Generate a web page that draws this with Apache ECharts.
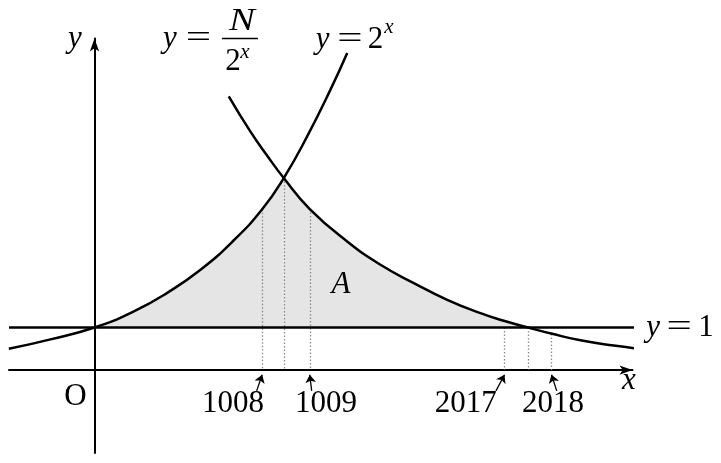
<!DOCTYPE html>
<html>
<head>
<meta charset="utf-8">
<script src="https://cdn.jsdelivr.net/npm/echarts@6/dist/echarts.min.js"></script>
<style>
html, body { margin: 0; padding: 0; background: #fff; }
#main { width: 721px; height: 463px; }
</style>
</head>
<body>
<div id="main"></div>
<script>
// y = 2^x (schematic units)
const expX = [-0.952, -0.489, 0, 0.437, 0.808, 1.178, 1.548, 1.863, 2.103, 2.363, 2.622, 2.808];
const expY = [0.499, 0.722, 1, 1.381, 1.816, 2.358, 3.052, 3.781, 4.515, 5.494, 6.593, 7.456];
// y = N / 2^x
const invX = [1.492, 1.733, 1.919, 2.103, 2.392, 2.808, 3.178, 3.548, 3.919, 4.289, 4.548, 4.819, 5.086, 5.4, 5.77, 6.067];
const invY = [6.435, 5.605, 5.04, 4.515, 3.786, 3.024, 2.475, 2.045, 1.652, 1.339, 1.158, 1, 0.852, 0.699, 0.576, 0.499];
// where the curves meet, and where N/2^x crosses y = 1
const meetX = 2.103, crossX = 4.819;
// dotted drop lines: x and the height they start from
const dropX = [1.863, 2.103, 2.392, 4.556, 4.819, 5.078];
const dropTop = [3.781, 4.515, 3.786, 1, 1, 0.85];
// marked x values and their labels
const tickText = ['1008', '1009', '2017', '2018'];
const tickX = [1.863, 2.392, 4.556, 5.078];
const tickLabelX = [1.539, 2.572, 4.124, 5.094];
const tickTailX = [1.802, 2.413, 4.461, 5.136];
const lineY = 1;

const FONT = "'Liberation Serif', 'DejaVu Serif', serif",
	FS = 31,
	BLACK = '#000',
	CURVE = { type: 'line', smooth: 0.5, symbol: 'none', clip: false, silent: true, z: 4,
		lineStyle: { color: BLACK, width: 2.5 } },
	FILL = { type: 'line', smooth: 0.5, symbol: 'none', clip: false, silent: true, z: 1,
		lineStyle: { width: 0 }, areaStyle: { color: '#e5e5e5', opacity: 1, origin: lineY } },
	AXIS_LINE = { onZero: true, symbol: ['none', 'arrow'], symbolSize: [7, 13],
		lineStyle: { color: BLACK, width: 2 } },
	NO_AXIS_DECOR = { axisTick: { show: false }, axisLabel: { show: false }, splitLine: { show: false } };

const pts = (xs, ys) => xs.map((x, i) => [x, ys[i]]);
const expPts = pts(expX, expY), invPts = pts(invX, invY);

const chart = echarts.init(document.getElementById('main'));

chart.setOption({
	animation: false,
	grid: { left: 9, right: 88.5, top: 38.5, bottom: 10 },
	xAxis: Object.assign({ type: 'value', min: -0.95, max: 5.978, axisLine: AXIS_LINE }, NO_AXIS_DECOR),
	yAxis: Object.assign({ type: 'value', min: -1.95, max: 7.796, axisLine: AXIS_LINE }, NO_AXIS_DECOR),
	series: [
		Object.assign({ data: expPts.filter(p => p[0] >= 0 && p[0] <= meetX) }, FILL),
		Object.assign({ data: invPts.filter(p => p[0] >= meetX && p[0] <= crossX) }, FILL),
		{
			type: 'lines', coordinateSystem: 'cartesian2d', silent: true, z: 2, clip: false,
			lineStyle: { color: '#8c8c8c', width: 1.3, type: [1.5, 2], opacity: 1 },
			data: dropX.map((x, i) => ({ coords: [[x, dropTop[i]], [x, 0]] }))
		},
		{
			type: 'line', symbol: 'none', silent: true, z: 3, clip: false,
			lineStyle: { color: BLACK, width: 2.5 },
			data: [[-0.95, lineY], [6.06, lineY]]
		},
		Object.assign({ data: expPts }, CURVE),
		Object.assign({ data: invPts }, CURVE),
		{
			type: 'lines', coordinateSystem: 'cartesian2d', silent: true, z: 5, clip: false,
			symbol: ['none', 'arrow'], symbolSize: 8,
			lineStyle: { color: BLACK, width: 1.3, opacity: 1 },
			data: tickX.map((x, i) => ({ coords: [[tickTailX[i], -0.49], [x, -0.11]] }))
		}
	]
});

// texts, anchored to data points, nudged in pixels
const px = p => chart.convertToPixel({ gridIndex: 0 }, p);
function txt(p, text, opts) {
	const o = Object.assign({ dx: 0, dy: 0, size: FS, italic: false, sx: 1 }, opts || {});
	return {
		type: 'text', x: p[0] + o.dx, y: p[1] + o.dy, scaleX: o.sx, z: 10, silent: true,
		style: {
			text, fill: BLACK, fontFamily: FONT, fontSize: o.size,
			fontStyle: o.italic ? 'italic' : 'normal',
			align: 'center', verticalAlign: 'middle'
		}
	};
}
const EQ = { sx: 1.45 };
const g = [];

// axis names and origin
g.push(txt(px([0, 7.796]), 'y', { italic: true, dx: -19.5, dy: 0 }));
g.push(txt(px([5.978, 0]), 'x', { italic: true, dx: -3.5, dy: 11 }));
g.push(txt(px([0, 0]), 'O', { dx: -19, dy: 26.5 }));
g.push(txt(px([2.739, 2.01]), 'A', { italic: true }));

// y = 2^x, at the top of its curve
const e = px(expPts[expPts.length - 1]);
g.push(txt(e, 'y', { italic: true, dx: -24.7, dy: -13.5 }));
g.push(txt(e, '=', Object.assign({ dx: 2.8, dy: -13.5 }, EQ)));
g.push(txt(e, '2', { dx: 28.3, dy: -13.5 }));
g.push(txt(e, 'x', { italic: true, size: 21, dx: 41.8, dy: -25 }));

// y = N / 2^x, above the start of its curve
const f = px(invPts[0]);
g.push(txt(f, 'y', { italic: true, dx: -58.8, dy: -57.9 }));
g.push(txt(f, '=', Object.assign({ dx: -30.3, dy: -57.9 }, EQ)));
g.push({ type: 'rect', z: 10, silent: true,
	shape: { x: f[0] + 11.2 - 18, y: f[1] - 57.9 - 0.8, width: 36, height: 1.6 }, style: { fill: BLACK } });
g.push(txt(f, 'N', { italic: true, sx: 1.25, dx: 13.2, dy: -74.5 }));
g.push(txt(f, '2', { dx: 4.2, dy: -34.9 }));
g.push(txt(f, 'x', { italic: true, size: 21, dx: 16.2, dy: -43.5 }));

// y = 1, at the right end of the line
const h = px([6.06, lineY]);
g.push(txt(h, 'y', { italic: true, dx: 13.2 }));
g.push(txt(h, '=', Object.assign({ dx: 39.2 }, EQ)));
g.push(txt(h, '1', { dx: 66.2 }));

tickText.forEach((t, i) => g.push(txt(px([tickLabelX[i], -0.787]), t)));

chart.setOption({ graphic: g });
</script>
</body>
</html>
